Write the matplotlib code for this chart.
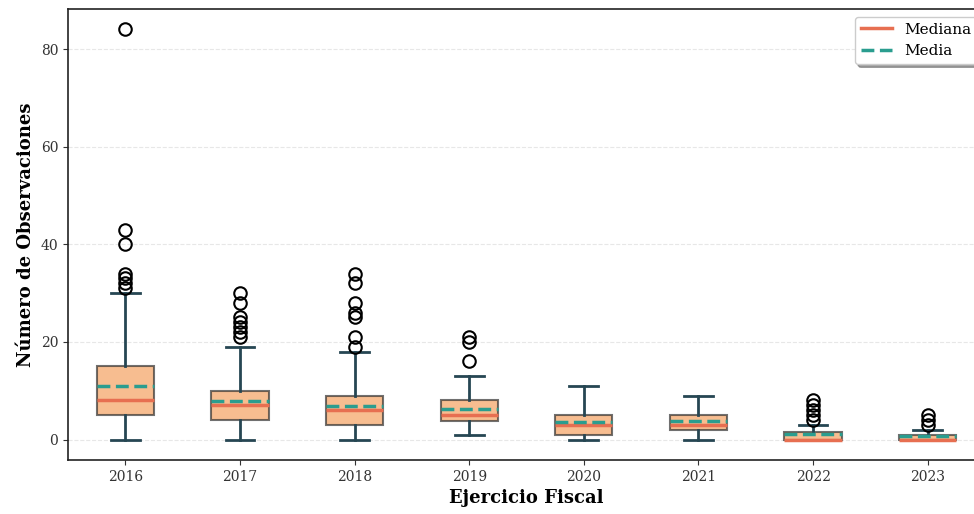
import matplotlib
matplotlib.use("Agg")
import matplotlib.pyplot as plt
from matplotlib.lines import Line2D

plt.rcParams["font.family"] = ["DejaVu Serif"]

# Summary statistics
years = ["2016", "2017", "2018", "2019", "2020", "2021", "2022", "2023"]
q1 = [5, 4, 3, 3.7, 1, 2, 0, 0]
medians = [8, 7, 6, 5, 3, 3, 0, 0]
q3 = [15, 10, 9, 8, 5, 5, 1.5, 1]
means = [11, 7.9, 6.8, 6.3, 3.5, 3.7, 1.1, 0.75]
whisker_lo = [0, 0, 0, 1, 0, 0, 0, 0]
whisker_hi = [30, 19, 18, 13, 11, 9, 3, 2]
fliers = [
    [31, 32, 33, 34, 40, 43, 84],
    [21, 22, 23, 24, 25, 28, 30],
    [19, 21, 25, 26, 28, 32, 34],
    [16, 20, 21],
    [],
    [],
    [4, 5, 6, 7, 8],
    [3, 4, 5],
]

C_BOX = "#F4A261"
C_MED = "#E76F51"
C_MEAN = "#2A9D8F"
C_WHISK = "#264653"

stats = []
for i, y in enumerate(years):
    stats.append(dict(label=y, q1=q1[i], med=medians[i], q3=q3[i], mean=means[i],
                      whislo=whisker_lo[i], whishi=whisker_hi[i], fliers=fliers[i]))

fig = plt.figure(figsize=(9.74, 5.14), dpi=100)
ax = fig.add_axes([0.0698, 0.105, 0.9415, 0.8775])

ax.bxp(stats, positions=range(1, len(years) + 1), widths=0.5, patch_artist=True,
       showmeans=True, meanline=True,
       boxprops=dict(facecolor=C_BOX, alpha=0.7, edgecolor="#333333", linewidth=1.5),
       medianprops=dict(color=C_MED, linewidth=2.5),
       meanprops=dict(color=C_MEAN, linewidth=2.5, linestyle="--"),
       whiskerprops=dict(color=C_WHISK, linewidth=2),
       capprops=dict(color=C_WHISK, linewidth=2),
       flierprops=dict(marker="o", markerfacecolor="none", markeredgecolor="black",
                       markersize=9, markeredgewidth=1.5))

ax.set_xlim(0.5, len(years) + 0.5)
ax.set_ylim(-4.2, 88.2)
ax.set_yticks([0, 20, 40, 60, 80])
ax.yaxis.grid(True, linestyle="--", color="#dddddd", alpha=0.7)
ax.set_axisbelow(True)
ax.tick_params(labelsize=10, colors="#333333")
for s in ax.spines.values():
    s.set_linewidth(1.2)
    s.set_color("#222222")

ax.set_xlabel("Ejercicio Fiscal", fontsize=13, fontweight="bold")
ax.set_ylabel("Número de Observaciones", fontsize=13, fontweight="bold")

handles = [Line2D([], [], color=C_MED, lw=2.5, label="Mediana"),
           Line2D([], [], color=C_MEAN, lw=2.5, ls="--", label="Media")]
ax.legend(handles=handles, loc="upper right", fontsize=11, frameon=True,
          shadow=True, fancybox=True)

fig.savefig("out.png", dpi=100)
